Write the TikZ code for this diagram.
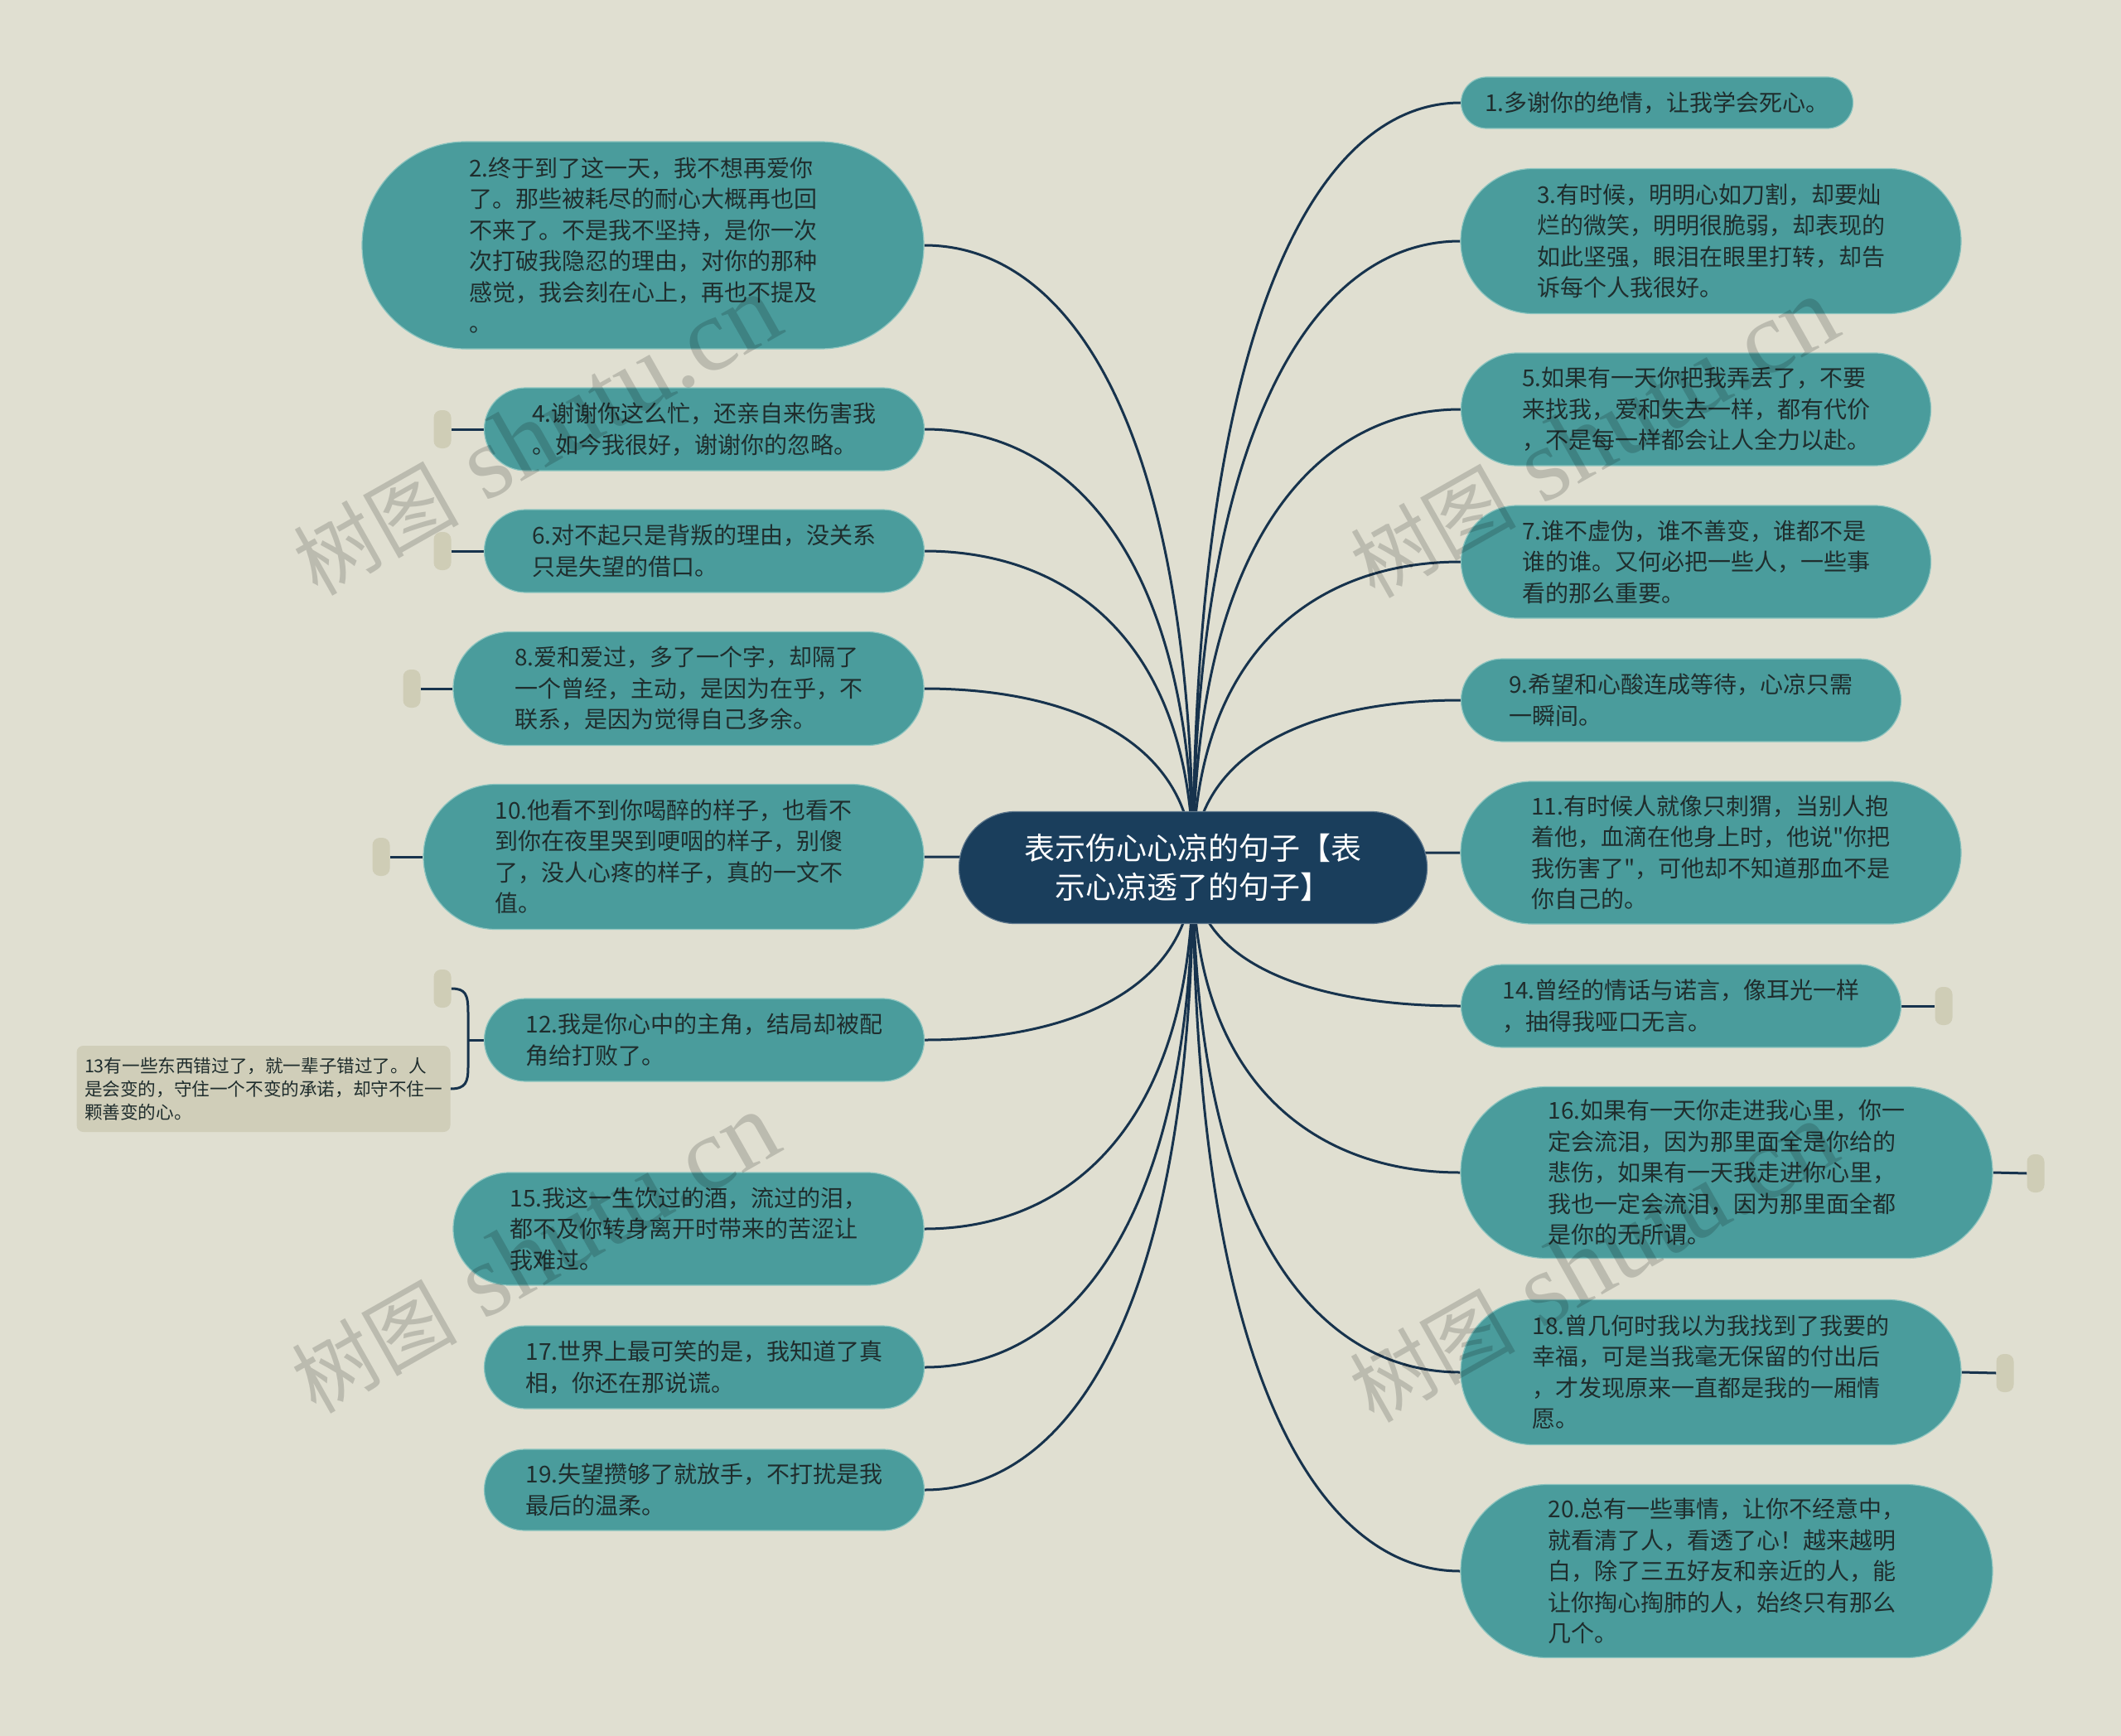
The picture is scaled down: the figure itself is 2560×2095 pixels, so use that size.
\documentclass[tikz,border=0pt]{standalone}
\usepackage{fontspec}
\newfontfamily\cjk{Noto Sans CJK SC}
\newfontfamily\wmlatin{Liberation Serif}
\usetikzlibrary{calc}
\definecolor{bgc}{HTML}{E0DFD1}
\definecolor{tealc}{HTML}{4A9C9C}
\definecolor{tealrim}{HTML}{8CC4BF}
\definecolor{navyc}{HTML}{1A3E5C}
\definecolor{edgec}{HTML}{17334D}
\definecolor{pillc}{HTML}{CFCDB6}
\definecolor{notec}{HTML}{D0CEB9}
\definecolor{txtc}{HTML}{1F2D2D}
\pgfdeclarelayer{back}
\pgfdeclarelayer{lines}
\pgfsetlayers{back,lines,main}
\newcommand\lconn[1]{\draw[conn] let \p1=(c.center), \p2=(#1.east) in (\p1) .. controls (\x1,{\y1+0.7*(\y2-\y1)}) and ({\x1+0.45*(\x2-\x1)},\y2) .. (\p2);}
\newcommand\rconn[1]{\draw[conn] let \p1=(c.center), \p2=(#1.west) in (\p1) .. controls (\x1,{\y1+0.7*(\y2-\y1)}) and ({\x1+0.45*(\x2-\x1)},\y2) .. (\p2);}
\newcommand\wmtext{{\cjk\fontsize{100}{110}\selectfont 树图}{\wmlatin\fontsize{125}{130}\selectfont\ shutu.cn}}
\begin{document}
\begin{tikzpicture}[x=1pt,y=-1pt,
  bubble/.style={fill=tealc, draw=tealrim, line width=1.2pt, text=txtc, align=left, inner sep=0pt,
    font=\cjk\fontsize{28}{37.5}\selectfont},
  bub/.style 2 args={bubble, minimum width=#1, minimum height=#2, rounded corners=#2/2},
  root/.style={fill=navyc, draw=navyc!70!white, line width=1.2pt, text=white, align=center, inner sep=0pt,
    font=\cjk\fontsize{37}{47}\selectfont, minimum width=565, minimum height=135, rounded corners=67.5},
  pill/.style={fill=pillc, rounded corners=9, minimum width=21, minimum height=46, inner sep=0pt},
  note/.style={fill=notec, rounded corners=8, text=txtc, align=left, inner sep=0pt,
    font=\cjk\fontsize{21.6}{27.8}\selectfont, minimum width=451, minimum height=104},
  conn/.style={draw=edgec, line width=3pt},
  wmark/.style={text=black, text opacity=0.16, rotate=29.5, inner sep=0pt}
]
\begin{pgfonlayer}{back}
\fill[bgc] (0,0) rectangle (2560,2095);
\end{pgfonlayer}
\useasboundingbox (0,0) rectangle (2560,2095);

\node[root] (c) at (1440,1047) {表示伤心心凉的句子【表\\示心凉透了的句子】};

% left side
\node[bub={678}{250}] (n2) at (776,296) {2.终于到了这一天，我不想再爱你\\了。那些被耗尽的耐心大概再也回\\不来了。不是我不坚持，是你一次\\次打破我隐忍的理由，对你的那种\\感觉，我会刻在心上，再也不提及\\。};
\node[bub={531}{100}] (n4) at (850,518) {4.谢谢你这么忙，还亲自来伤害我\\。如今我很好，谢谢你的忽略。};
\node[bub={531}{100}] (n6) at (850,665) {6.对不起只是背叛的理由，没关系\\只是失望的借口。};
\node[bub={568}{137}] (n8) at (831,831) {8.爱和爱过，多了一个字，却隔了\\一个曾经，主动，是因为在乎，不\\联系，是因为觉得自己多余。};
\node[bub={604}{175}] (n10) at (813,1034) {10.他看不到你喝醉的样子，也看不\\到你在夜里哭到哽咽的样子，别傻\\了，没人心疼的样子，真的一文不\\值。};
\node[bub={531}{100}] (n12) at (850,1255) {12.我是你心中的主角，结局却被配\\角给打败了。};
\node[bub={568}{136}] (n15) at (831,1483) {15.我这一生饮过的酒，流过的泪，\\都不及你转身离开时带来的苦涩让\\我难过。};
\node[bub={531}{100}] (n17) at (850,1650) {17.世界上最可笑的是，我知道了真\\相，你还在那说谎。};
\node[bub={531}{98}] (n19) at (850,1798) {19.失望攒够了就放手，不打扰是我\\最后的温柔。};
\node[note] (n13) at (318,1314) {13有一些东西错过了，就一辈子错过了。人\\是会变的，守住一个不变的承诺，却守不住一\\颗善变的心。};

% right side
\node[bub={473}{62}] (n1) at (2000,124) {1.多谢你的绝情，让我学会死心。};
\node[bub={604}{175}] (n3) at (2065,291) {3.有时候，明明心如刀割，却要灿\\烂的微笑，明明很脆弱，却表现的\\如此坚强，眼泪在眼里打转，却告\\诉每个人我很好。};
\node[bub={567}{136}] (n5) at (2047,494) {5.如果有一天你把我弄丢了，不要\\来找我，爱和失去一样，都有代价\\，不是每一样都会让人全力以赴。};
\node[bub={567}{136}] (n7) at (2047,678) {7.谁不虚伪，谁不善变，谁都不是\\谁的谁。又何必把一些人，一些事\\看的那么重要。};
\node[bub={531}{100}] (n9) at (2029,845) {9.希望和心酸连成等待，心凉只需\\一瞬间。};
\node[bub={604}{172}] (n11) at (2065,1029) {11.有时候人就像只刺猬，当别人抱\\着他，血滴在他身上时，他说"你把\\我伤害了"，可他却不知道那血不是\\你自己的。};
\node[bub={531}{100}] (n14) at (2029,1214) {14.曾经的情话与诺言，像耳光一样\\，抽得我哑口无言。};
\node[bub={642}{207}] (n16) at (2084,1415) {16.如果有一天你走进我心里，你一\\定会流泪，因为那里面全是你给的\\悲伤，如果有一天我走进你心里，\\我也一定会流泪，因为那里面全都\\是你的无所谓。};
\node[bub={604}{175}] (n18) at (2065,1656) {18.曾几何时我以为我找到了我要的\\幸福，可是当我毫无保留的付出后\\，才发现原来一直都是我的一厢情\\愿。};
\node[bub={642}{209}] (n20) at (2084,1896) {20.总有一些事情，让你不经意中，\\就看清了人，看透了心！越来越明\\白，除了三五好友和亲近的人，能\\让你掏心掏肺的人，始终只有那么\\几个。};

% pills
\node[pill] (p4) at (534,518) {};
\node[pill] (p6) at (534,665) {};
\node[pill] (p8) at (497,831) {};
\node[pill] (p10) at (460,1034) {};
\node[pill] (p12) at (534,1193) {};
\node[pill] (p14) at (2346,1214) {};
\node[pill] (p16) at (2457,1416) {};
\node[pill] (p18) at (2420,1657) {};

\begin{pgfonlayer}{lines}
\lconn{n2}\lconn{n4}\lconn{n6}\lconn{n8}\lconn{n10}\lconn{n12}\lconn{n15}\lconn{n17}\lconn{n19}
\rconn{n1}\rconn{n3}\rconn{n5}\rconn{n7}\rconn{n9}\rconn{n11}\rconn{n14}\rconn{n16}\rconn{n18}\rconn{n20}
\draw[conn] (p4.east) -- (n4.west);
\draw[conn] (p6.east) -- (n6.west);
\draw[conn] (p8.east) -- (n8.west);
\draw[conn] (p10.east) -- (n10.west);
\draw[conn] (n14.east) -- (p14.west);
\draw[conn] (n16.east) -- (p16.west);
\draw[conn] (n18.east) -- (p18.west);
\coordinate (J) at (565,1255);
\draw[conn] (n12.west) -- (J);
\draw[conn] (p12.east) .. controls (562,1193) and (565,1200) .. (565,1222) -- (565,1288) .. controls (565,1306) and (562,1314) .. (n13.east);
\end{pgfonlayer}

% watermarks
\node[wmark] (wm1) at (648,526) {\wmtext};
\node[wmark] (wm2) at (1924,529) {\wmtext};
\node[wmark] (wm3) at (646,1513) {\wmtext};
\node[wmark] (wm4) at (1923,1524) {\wmtext};
\end{tikzpicture}
\end{document}
